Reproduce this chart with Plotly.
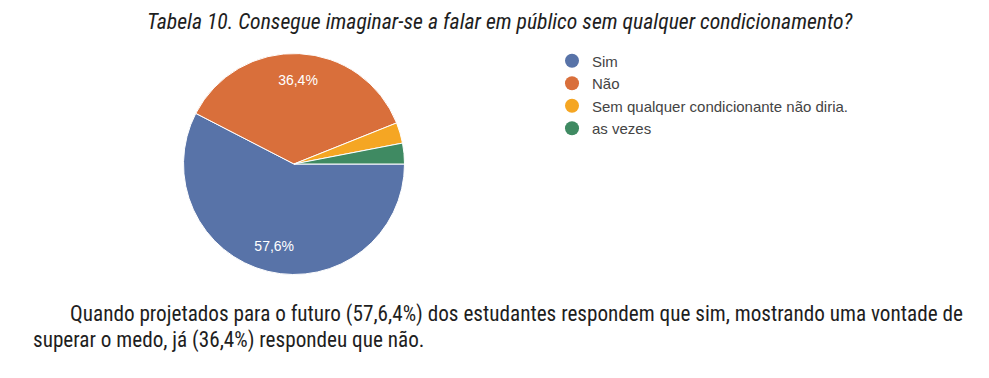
import plotly.graph_objects as go

# Data
labels = ["Sim", "Não", "Sem qualquer condicionante não diria.", "as vezes"]
values = [19, 12, 1, 1]
colors = ["#5873a8", "#d96f3b", "#f5a623", "#3f8a62"]
show_label = [True, True, False, False]

title_text = "Tabela 10. Consegue imaginar-se a falar em público sem qualquer condicionamento?"
para_line1 = "Quando projetados para o futuro (57,6,4%) dos estudantes respondem que sim, mostrando uma vontade de"
para_line2 = "superar o medo, já (36,4%) respondeu que não."

W, H = 989, 378
OFF = 8  # page body margin
NARROW = "Roboto Condensed, Liberation Sans Narrow, sans-serif"
SANS = "Liberation Sans, Arial, sans-serif"

cx, cy, R = 294 - OFF, 164 - OFF, 110.5
pie_domain = dict(x=[(cx - R) / W, (cx + R) / W], y=[1 - (cy + R) / H, 1 - (cy - R) / H])

fig = go.Figure()

# filled pie
fig.add_trace(go.Pie(
    labels=labels, values=values, sort=False, direction="clockwise", rotation=90,
    marker=dict(colors=colors, line=dict(color="white", width=1)),
    textinfo="none", showlegend=False, hoverinfo="label+percent",
    domain=pie_domain,
))
# transparent ring on top, carrying the percentage labels
fig.add_trace(go.Pie(
    labels=labels, values=values, sort=False, direction="clockwise", rotation=90,
    hole=0.52,
    marker=dict(colors=["rgba(0,0,0,0)"] * len(values), line=dict(width=0)),
    texttemplate=["%{percent:.1%}" if s else "" for s in show_label],
    textposition="inside", insidetextorientation="horizontal",
    textfont=dict(family=SANS, size=14, color="white"),
    showlegend=False, hoverinfo="skip",
    domain=pie_domain,
))

# legend entries with circular markers
for i, (lab, col) in enumerate(zip(labels, colors)):
    fig.add_trace(go.Scatter(
        x=[None], y=[None], mode="markers", name=lab,
        marker=dict(symbol="circle", size=14, color=col),
        legendgroup=str(i), showlegend=True,
    ))

fig.update_layout(
    width=W, height=H,
    margin=dict(l=0, r=0, t=0, b=0),
    paper_bgcolor="white", plot_bgcolor="white",
    separators=",.",
    xaxis=dict(visible=False), yaxis=dict(visible=False),
    legend=dict(
        x=544 / W, xanchor="left",
        y=1 - 36.5 / H, yanchor="top",
        font=dict(family=SANS, size=15, color="#444444"),
        tracegroupgap=0,
        bgcolor="rgba(0,0,0,0)",
    ),
    annotations=[
        dict(text="<i>" + title_text + "</i>", x=(499.5 - OFF) / W, y=1,
             xref="paper", yref="paper", xanchor="center", yanchor="top",
             borderpad=0,
             showarrow=False, font=dict(family=NARROW, size=21.7, color="#1e1e1e")),
        dict(text=para_line1, x=(68 - OFF) / W, y=1 - 306 / H,
             xref="paper", yref="paper", xanchor="left", yanchor="middle",
             showarrow=False, font=dict(family=NARROW, size=21.2, color="#1e1e1e")),
        dict(text=para_line2, x=(31 - OFF) / W, y=1 - 331.5 / H,
             xref="paper", yref="paper", xanchor="left", yanchor="middle",
             showarrow=False, font=dict(family=NARROW, size=21.2, color="#1e1e1e")),
    ],
)

fig.write_html("out.html")
